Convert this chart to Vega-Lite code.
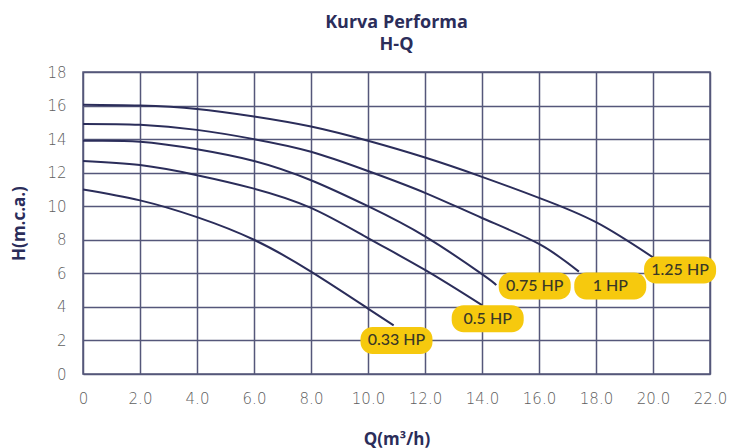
{
  "$schema": "https://vega.github.io/schema/vega-lite/v6.json",
  "width": 627,
  "height": 302,
  "autosize": {"type": "none"},
  "padding": {"left": 83, "top": 72, "right": 22, "bottom": 74},
  "background": "#ffffff",
  "title": {
    "text": ["Kurva Performa", "H-Q"],
    "anchor": "middle",
    "font": "Open Sans",
    "fontSize": 18,
    "fontWeight": "bold",
    "color": "#2b2d5a",
    "lineHeight": 22,
    "offset": 11
  },
  "config": {
    "view": {"stroke": "#55577a", "strokeWidth": 1.5},
    "axis": {
      "grid": true,
      "gridColor": "#55577a",
      "gridWidth": 1.5,
      "gridOpacity": 1,
      "domain": false,
      "ticks": false,
      "labelOverlap": false,
      "labelFlush": false,
      "labelFont": "DejaVu Sans",
      "labelFontSize": 15,
      "labelFontWeight": 200,
      "labelColor": "#606060",
      "titleFont": "Open Sans",
      "titleFontSize": 17,
      "titleFontWeight": "bold",
      "titleColor": "#2b2d5a"
    }
  },
  "datasets": {
    "curves": [
      {"series": "1.25 HP", "Q": 0, "H": 16.05},
      {"series": "1.25 HP", "Q": 2, "H": 16.0},
      {"series": "1.25 HP", "Q": 4, "H": 15.8},
      {"series": "1.25 HP", "Q": 6, "H": 15.35},
      {"series": "1.25 HP", "Q": 8, "H": 14.75},
      {"series": "1.25 HP", "Q": 10, "H": 13.9},
      {"series": "1.25 HP", "Q": 12, "H": 12.9},
      {"series": "1.25 HP", "Q": 14, "H": 11.75},
      {"series": "1.25 HP", "Q": 16, "H": 10.5},
      {"series": "1.25 HP", "Q": 18, "H": 9.05},
      {"series": "1.25 HP", "Q": 20, "H": 6.95},
      {"series": "1 HP", "Q": 0, "H": 14.9},
      {"series": "1 HP", "Q": 2, "H": 14.85},
      {"series": "1 HP", "Q": 4, "H": 14.55},
      {"series": "1 HP", "Q": 6, "H": 14.0},
      {"series": "1 HP", "Q": 8, "H": 13.25},
      {"series": "1 HP", "Q": 10, "H": 12.1},
      {"series": "1 HP", "Q": 12, "H": 10.8},
      {"series": "1 HP", "Q": 14, "H": 9.3},
      {"series": "1 HP", "Q": 16, "H": 7.75},
      {"series": "1 HP", "Q": 17.4, "H": 6.1},
      {"series": "0.75 HP", "Q": 0, "H": 13.9},
      {"series": "0.75 HP", "Q": 2, "H": 13.85},
      {"series": "0.75 HP", "Q": 4, "H": 13.4},
      {"series": "0.75 HP", "Q": 6, "H": 12.7},
      {"series": "0.75 HP", "Q": 8, "H": 11.55},
      {"series": "0.75 HP", "Q": 10, "H": 10.0},
      {"series": "0.75 HP", "Q": 12, "H": 8.2},
      {"series": "0.75 HP", "Q": 14, "H": 5.95},
      {"series": "0.75 HP", "Q": 14.5, "H": 5.3},
      {"series": "0.5 HP", "Q": 0, "H": 12.7},
      {"series": "0.5 HP", "Q": 2, "H": 12.45},
      {"series": "0.5 HP", "Q": 4, "H": 11.85},
      {"series": "0.5 HP", "Q": 6, "H": 11.05},
      {"series": "0.5 HP", "Q": 8, "H": 9.9},
      {"series": "0.5 HP", "Q": 10, "H": 8.1},
      {"series": "0.5 HP", "Q": 12, "H": 6.2},
      {"series": "0.5 HP", "Q": 14, "H": 4.1},
      {"series": "0.33 HP", "Q": 0, "H": 11.0},
      {"series": "0.33 HP", "Q": 2, "H": 10.35},
      {"series": "0.33 HP", "Q": 4, "H": 9.35},
      {"series": "0.33 HP", "Q": 6, "H": 8.0},
      {"series": "0.33 HP", "Q": 8, "H": 6.1},
      {"series": "0.33 HP", "Q": 10, "H": 3.9},
      {"series": "0.33 HP", "Q": 10.9, "H": 2.9}
    ],
    "labels": [
      {"label": "0.33 HP", "Q": 11.0, "H": 2.0},
      {"label": "0.5 HP", "Q": 14.2, "H": 3.3},
      {"label": "0.75 HP", "Q": 15.85, "H": 5.25},
      {"label": "1 HP", "Q": 18.5, "H": 5.25},
      {"label": "1.25 HP", "Q": 20.95, "H": 6.2}
    ]
  },
  "encoding": {
    "x": {
      "field": "Q", "type": "quantitative",
      "scale": {"domain": [0, 22], "nice": false, "zero": false},
      "axis": {
        "values": [0, 2, 4, 6, 8, 10, 12, 14, 16, 18, 20, 22],
        "labelExpr": "datum.value == 0 ? '0' : format(datum.value, '.1f')",
        "labelOverlap": false,
        "labelFlush": false,
        "labelPadding": 17,
        "title": "Q(m³/h)",
        "titlePadding": 25
      }
    },
    "y": {
      "field": "H", "type": "quantitative",
      "scale": {"domain": [0, 18], "nice": false, "zero": false},
      "axis": {
        "values": [0, 2, 4, 6, 8, 10, 12, 14, 16, 18],
        "labelExpr": "format(datum.value, 'd')",
        "labelOverlap": false,
        "labelFlush": false,
        "labelSeparation": 0,
        "labelPadding": 17,
        "title": "H(m.c.a.)",
        "titlePadding": 18
      }
    }
  },
  "layer": [
    {
      "data": {"name": "curves"},
      "mark": {"type": "line", "interpolate": "natural", "color": "#2b2d5a", "strokeWidth": 2},
      "encoding": {
        "detail": {"field": "series"}
      }
    },
    {
      "data": {"name": "labels"},
      "mark": {
        "type": "point",
        "shape": "M-0.667,-0.375 L0.667,-0.375 A0.333,0.333 0 0 1 1,-0.042 L1,0.042 A0.333,0.333 0 0 1 0.667,0.375 L-0.667,0.375 A0.333,0.333 0 0 1 -1,0.042 L-1,-0.042 A0.333,0.333 0 0 1 -0.667,-0.375 Z",
        "size": 5184,
        "filled": true,
        "fill": "#f6c90e",
        "opacity": 1,
        "strokeWidth": 0
      }
    },
    {
      "data": {"name": "labels"},
      "mark": {"type": "text", "font": "Lato", "fontSize": 16, "fontWeight": 500, "color": "#3a3826", "align": "center", "baseline": "middle"},
      "encoding": {
        "text": {"field": "label"}
      }
    }
  ]
}
